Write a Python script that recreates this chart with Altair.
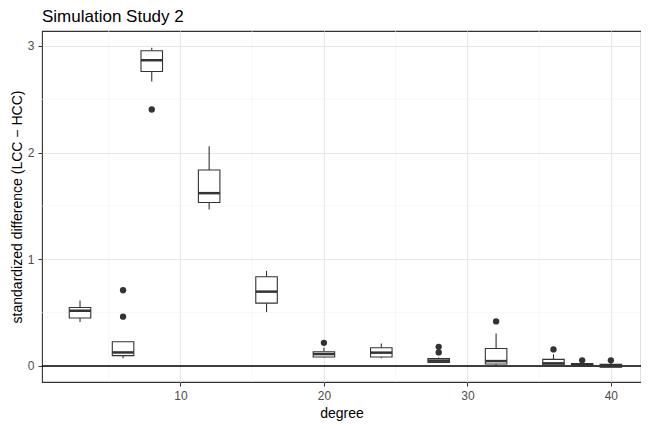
import altair as alt
import pandas as pd

# ---- data ----
degree   = [3, 6, 8, 12, 16, 20, 24, 28, 32, 36, 38, 40]
whisk_lo = [0.413, 0.072, 2.667, 1.466, 0.505, 0.080, 0.072, 0.030, 0.000, 0.005, 0.000, -0.012]
q1       = [0.450, 0.097, 2.760, 1.533, 0.589, 0.084, 0.084, 0.034, 0.019, 0.010, 0.005, -0.012]
median   = [0.518, 0.127, 2.866, 1.620, 0.697, 0.112, 0.125, 0.050, 0.046, 0.025, 0.010, 0.000]
q3       = [0.548, 0.227, 2.955, 1.837, 0.836, 0.134, 0.171, 0.069, 0.164, 0.062, 0.022, 0.015]
whisk_hi = [0.613, 0.227, 2.983, 2.060, 0.892, 0.170, 0.211, 0.080, 0.304, 0.110, 0.035, 0.030]

out_x = [6, 6, 8, 20, 28, 28, 32, 36, 38, 40]
out_y = [0.710, 0.462, 2.404, 0.217, 0.180, 0.127, 0.418, 0.155, 0.053, 0.053]

minor_x = [5, 15, 25, 35]
minor_y = [0.5, 1.5, 2.5]
x_ticks = [10, 20, 30, 40]
y_ticks = [0, 1, 2, 3]

boxes = pd.DataFrame({"degree": degree, "lo": whisk_lo, "q1": q1, "med": median,
                      "q3": q3, "hi": whisk_hi})
outl = pd.DataFrame({"degree": out_x, "value": out_y})
mx = pd.DataFrame({"v": minor_x})
my = pd.DataFrame({"v": minor_y})
zero = pd.DataFrame({"v": [0]})

DARK = "#333333"
xs = alt.Scale(domain=[0.35, 42.1], nice=False, zero=False)
ys = alt.Scale(domain=[-0.15, 3.14], nice=False, zero=False)

XT = "degree"
YT = "standardized difference (LCC \u2212 HCC)"
xaxis = alt.Axis(values=x_ticks, title=XT, grid=True)
yaxis = alt.Axis(values=y_ticks, title=YT, grid=True)


def X(field):
    return alt.X(field, scale=xs, axis=xaxis, title=XT)


def Y(field):
    return alt.Y(field, scale=ys, axis=yaxis, title=YT)


half = 0.75

base = alt.Chart(boxes).transform_calculate(
    xl=f"datum.degree - {half}", xr=f"datum.degree + {half}"
)

minor_xl = alt.Chart(mx).mark_rule(color="#f2f2f2", strokeWidth=0.6).encode(x=X("v:Q"))
minor_yl = alt.Chart(my).mark_rule(color="#f2f2f2", strokeWidth=0.6).encode(y=Y("v:Q"))

hline = alt.Chart(zero).mark_rule(color="black", strokeWidth=1.5).encode(y=Y("v:Q"))

w_lo = base.mark_rule(color=DARK, strokeWidth=1.1).encode(
    x=X("degree:Q"), y=Y("lo:Q"), y2="q1:Q")
w_hi = base.mark_rule(color=DARK, strokeWidth=1.1).encode(
    x=X("degree:Q"), y=Y("q3:Q"), y2="hi:Q")

box = base.mark_rect(fill="white", stroke=DARK, strokeWidth=1.1).encode(
    x=X("xl:Q"), x2="xr:Q", y=Y("q1:Q"), y2="q3:Q")

med = base.mark_rule(color=DARK, strokeWidth=2.5).encode(
    x=X("xl:Q"), x2="xr:Q", y=Y("med:Q"))

pts = alt.Chart(outl).mark_circle(color=DARK, size=40, opacity=1).encode(
    x=X("degree:Q"), y=Y("value:Q"))

chart = alt.layer(minor_xl, minor_yl, hline, w_lo, w_hi, box, med, pts).properties(
    width=599, height=351,
    autosize=alt.AutoSizeParams(type="none"),
    padding={"left": 34, "top": 23, "right": 0, "bottom": 39},
    title=alt.TitleParams("Simulation Study 2", anchor="start", frame="group",
                          fontSize=17, font="Liberation Sans", fontWeight="normal",
                          color="black", offset=5),
).configure_view(
    stroke=DARK, strokeWidth=1.1
).configure_axis(
    domain=False,
    gridColor="#e6e6e6", gridWidth=1,
    tickColor=DARK, tickSize=4, tickWidth=1,
    labelColor="#4d4d4d", labelFontSize=12, labelFont="Liberation Sans",
    labelPadding=4,
    titleFont="Liberation Sans", titleFontSize=14, titleFontWeight="normal",
    titleColor="black",
).configure_axisY(titlePadding=3).configure_axisX(titlePadding=5)

chart.save("out.html", embed_options={"renderer": "svg", "actions": False})
